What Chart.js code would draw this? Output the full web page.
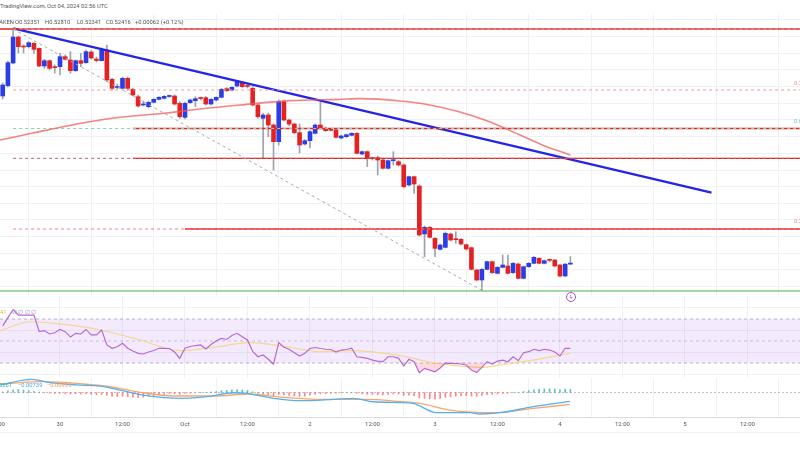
<!DOCTYPE html>
<html>
<head>
<meta charset="utf-8">
<script src="https://cdn.jsdelivr.net/npm/chart.js@4.4.1/dist/chart.umd.min.js"></script>
<style>
  html, body { margin: 0; padding: 0; background: #fff; }
  body { position: relative; width: 800px; height: 450px; overflow: hidden; font-family: Roboto, "Liberation Sans", sans-serif; }
  canvas { position: absolute; left: -30px; }
  .txt { position: absolute; white-space: nowrap; font-size: 5.8px; line-height: 1; color: #555; }
</style>
</head>
<body>
<canvas id="priceChart" width="830" height="282" style="top:14px"></canvas>
<canvas id="rsiChart" width="830" height="82" style="top:296px"></canvas>
<canvas id="macdChart" width="830" height="72" style="top:378px"></canvas>

<div class="txt" style="left:0;top:4px">TradingView.com, Oct 04, 2024 02:56 UTC</div>
<div class="txt" style="right:786px;top:19.5px">XRP / U.S. Dollar · 1h · KRAKEN</div>
<div class="txt" style="left:15px;top:19.5px">O0.52351</div>
<div class="txt" style="left:45px;top:19.5px">H0.52810</div>
<div class="txt" style="left:77px;top:19.5px">L0.52341</div>
<div class="txt" style="left:106px;top:19.5px">C0.52416</div>
<div class="txt" style="left:135px;top:19.5px">+0.00062 (+0.12%)</div>

<div class="txt" style="left:794px;top:81px;color:#e88a8a">0.786(0.6280)</div>
<div class="txt" style="left:794px;top:119px;color:#6fcfae">0.618(0.6049)</div>
<div class="txt" style="left:794px;top:219px;color:#e88a8a">0.236(0.5446)</div>

<div class="txt" style="left:0;top:310px;color:#e0c040">41</div>
<div class="txt" style="left:12px;top:310px;color:#999">∅ ∅ ∅ ∅</div>

<div class="txt" style="right:788px;top:383px;color:#3fae9c">0.00261</div>
<div class="txt" style="left:18px;top:383px;color:#4aa8ee">−0.00739</div>
<div class="txt" style="left:47px;top:383px;color:#f5965a">−0.00993</div>

<div style="position:absolute;left:566px;top:292px;width:8px;height:8px;border:1px solid #a050c8;border-radius:50%;font-size:6px;line-height:8px;text-align:center;color:#a050c8">ϟ</div>
<div style="position:absolute;left:0;top:432px;width:800px;height:1px;background:#eef0f3"></div>

<script>
// hour 0 = Sep 29 12:00 UTC, one candle per hour
const firstHour = 1;
const opens = [0.6244, 0.6306, 0.6442, 0.6598, 0.6541, 0.6540, 0.6560, 0.6530, 0.6424, 0.6456,
  0.6416, 0.6420, 0.6480, 0.6460, 0.6396, 0.6456, 0.6444, 0.6508, 0.6466, 0.6456,
  0.6520, 0.6344, 0.6295, 0.6290, 0.6350, 0.6284, 0.6240, 0.6190, 0.6180, 0.6206,
  0.6224, 0.6230, 0.6241, 0.6244, 0.6200, 0.6116, 0.6204, 0.6216, 0.6230, 0.6234,
  0.6196, 0.6220, 0.6236, 0.6288, 0.6280, 0.6304, 0.6320, 0.6304, 0.6290, 0.6190,
  0.6110, 0.6130, 0.6070, 0.5970, 0.6210, 0.6100, 0.6076, 0.6024, 0.5956, 0.5976,
  0.6020, 0.6070, 0.6050, 0.6040, 0.6040, 0.5992, 0.6000, 0.6008, 0.6020, 0.5896,
  0.5910, 0.5870, 0.5874, 0.5860, 0.5810, 0.5856, 0.5850, 0.5830, 0.5710, 0.5760,
  0.5704, 0.5416, 0.5456, 0.5390, 0.5324, 0.5336, 0.5416, 0.5384, 0.5384, 0.5352,
  0.5334, 0.5200, 0.5140, 0.5204, 0.5250, 0.5180, 0.5216, 0.5224, 0.5184, 0.5236,
  0.5150, 0.5220, 0.5240, 0.5270, 0.5240, 0.5260, 0.5260, 0.5230, 0.5164, 0.52351];
const highs = [0.6322, 0.6454, 0.6646, 0.6604, 0.6550, 0.6570, 0.6564, 0.6532, 0.6464, 0.6460,
  0.6430, 0.6500, 0.6490, 0.6510, 0.6460, 0.6500, 0.6520, 0.6517, 0.6478, 0.6532,
  0.6550, 0.6352, 0.6316, 0.6358, 0.6358, 0.6292, 0.6250, 0.6214, 0.6214, 0.6229,
  0.6241, 0.6247, 0.6250, 0.6250, 0.6210, 0.6208, 0.6226, 0.6240, 0.6238, 0.6241,
  0.6229, 0.6240, 0.6289, 0.6295, 0.6300, 0.6334, 0.6325, 0.6316, 0.6300, 0.6196,
  0.6140, 0.6142, 0.6076, 0.6220, 0.6220, 0.6106, 0.6082, 0.6076, 0.5983, 0.6037,
  0.6076, 0.6208, 0.6058, 0.6046, 0.6046, 0.6010, 0.6016, 0.6025, 0.6025, 0.5914,
  0.5914, 0.5878, 0.5884, 0.5866, 0.5860, 0.5910, 0.5857, 0.5836, 0.5764, 0.5764,
  0.5710, 0.5464, 0.5461, 0.5395, 0.5356, 0.5428, 0.5422, 0.5430, 0.5389, 0.5356,
  0.5338, 0.5206, 0.5209, 0.5254, 0.5254, 0.5221, 0.5290, 0.5290, 0.5245, 0.5242,
  0.5224, 0.5245, 0.5281, 0.5275, 0.5260, 0.5266, 0.5263, 0.5233, 0.5239, 0.52810];
const lows = [0.6226, 0.6298, 0.6436, 0.6502, 0.6502, 0.6532, 0.6500, 0.6420, 0.6410, 0.6400,
  0.6382, 0.6370, 0.6460, 0.6380, 0.6391, 0.6420, 0.6440, 0.6466, 0.6448, 0.6454,
  0.6330, 0.6280, 0.6286, 0.6286, 0.6280, 0.6244, 0.6178, 0.6184, 0.6172, 0.6202,
  0.6220, 0.6226, 0.6235, 0.6190, 0.6110, 0.6106, 0.6199, 0.6180, 0.6220, 0.6190,
  0.6190, 0.6214, 0.6232, 0.6271, 0.6274, 0.6298, 0.6295, 0.6292, 0.6184, 0.6110,
  0.5872, 0.6000, 0.5800, 0.5950, 0.6094, 0.6064, 0.6016, 0.5902, 0.5950, 0.5932,
  0.6016, 0.6046, 0.6031, 0.6034, 0.5992, 0.5986, 0.5995, 0.6004, 0.5896, 0.5890,
  0.5820, 0.5860, 0.5770, 0.5806, 0.5806, 0.5830, 0.5824, 0.5692, 0.5704, 0.5660,
  0.5404, 0.5280, 0.5392, 0.5280, 0.5320, 0.5332, 0.5374, 0.5360, 0.5350, 0.5320,
  0.5200, 0.5134, 0.5078, 0.5200, 0.5179, 0.5176, 0.5212, 0.5176, 0.5179, 0.5146,
  0.5146, 0.5215, 0.5236, 0.5236, 0.5236, 0.5248, 0.5218, 0.5158, 0.5161, 0.52341];
const closes = [0.6310, 0.6444, 0.6598, 0.6540, 0.6538, 0.6564, 0.6524, 0.6424, 0.6456, 0.6410,
  0.6414, 0.6480, 0.6464, 0.6396, 0.6456, 0.6440, 0.6510, 0.6472, 0.6457, 0.6520,
  0.6340, 0.6290, 0.6300, 0.6350, 0.6290, 0.6250, 0.6184, 0.6196, 0.6206, 0.6224,
  0.6236, 0.6242, 0.6244, 0.6196, 0.6120, 0.6200, 0.6220, 0.6228, 0.6229, 0.6196,
  0.6224, 0.6236, 0.6284, 0.6276, 0.6296, 0.6328, 0.6300, 0.6301, 0.6190, 0.6120,
  0.6130, 0.6070, 0.5970, 0.6210, 0.6100, 0.6076, 0.6024, 0.5950, 0.5976, 0.6030,
  0.6070, 0.6050, 0.6036, 0.6038, 0.5996, 0.6004, 0.6012, 0.6020, 0.5900, 0.5910,
  0.5870, 0.5868, 0.5860, 0.5810, 0.5856, 0.5857, 0.5830, 0.5700, 0.5760, 0.5716,
  0.5410, 0.5456, 0.5396, 0.5330, 0.5350, 0.5420, 0.5380, 0.5382, 0.5356, 0.5326,
  0.5204, 0.5140, 0.5204, 0.5250, 0.5184, 0.5216, 0.5230, 0.5180, 0.5240, 0.5150,
  0.5220, 0.5240, 0.5276, 0.5240, 0.5256, 0.5258, 0.5224, 0.5164, 0.5235, 0.52416];

// 100 SMA, read at a few points
const maHours = [0.5, 6.8, 13.3, 19.7, 26.0, 32.5, 38.9, 46.6, 56.2, 65.8, 69.6, 77.3, 83.0, 88.8, 94.6, 100.3, 105.1, 110];
const maValues = [0.5980, 0.6022, 0.6064, 0.6100, 0.6124, 0.6142, 0.6166, 0.6190, 0.6216, 0.6224, 0.6228, 0.6214, 0.6190, 0.6148, 0.6088, 0.6010, 0.5944, 0.5890];

// drawings
const trendHours = [3.03, 137.1];
const trendPrices = [0.6650, 0.5664];
const fibHours = [3, 93];
const fibPrices = [0.6646, 0.5078];
const fibLevels = [0.6646, 0.6280, 0.6049, 0.5870, 0.5446];
const fibColors = ['#b0b3bb', '#f29a9a', '#7fd6b8', '#b06a6a', '#f08080'];
const zeroLevel = 0.5074;
const resPrices = [0.6646, 0.6049, 0.5870, 0.5446];
const resStartHours = [-6, 26, 26, 36];

const rsiValues = [63.8, 71.2, 78.5, 73.6, 73.6, 73.6, 73.6, 58.6, 59.5, 56.4,
  57.5, 60.6, 58.5, 53.6, 57.0, 56.4, 60.5, 55.5, 55.5, 60.0,
  46.4, 43.4, 44.8, 47.9, 43.4, 40.9, 38.8, 38.2, 40.0, 41.4,
  43.4, 43.4, 43.2, 40.0, 34.3, 43.4, 45.0, 45.9, 46.4, 42.7,
  46.8, 50.0, 52.3, 51.4, 55.0, 57.0, 53.9, 50.9, 40.5, 35.7,
  37.3, 33.4, 29.1, 48.5, 44.3, 42.5, 39.4, 36.4, 38.8, 43.2,
  44.1, 43.2, 42.5, 42.3, 40.0, 41.8, 42.3, 43.4, 35.7, 35.2,
  34.3, 32.7, 31.8, 31.2, 35.7, 35.7, 34.5, 27.3, 33.4, 31.2,
  21.2, 25.2, 23.6, 22.1, 25.5, 30.0, 29.7, 29.4, 29.1, 28.2,
  23.6, 21.4, 26.1, 31.2, 29.1, 31.8, 32.7, 31.2, 35.7, 32.1,
  39.4, 40.3, 42.5, 41.2, 42.5, 41.8, 40.0, 36.4, 43.4, 43.4];
const rsiMaHours = [0.5, 6.2, 12.0, 19.7, 27.4, 35.0, 41.4, 48.5, 55.5, 61.9, 67.7, 77.3, 83.6, 92.6, 96.5, 102.8, 109.9];
const rsiMaValues = [59.4, 67.5, 65.5, 60.0, 50.9, 41.2, 44.3, 48.5, 44.8, 40.3, 41.2, 36.8, 30.3, 26.1, 28.2, 32.7, 38.8];
const rsiLevels = [70, 50, 30];

const macdHours = [0.5, 6.6, 10.1, 15.2, 19.7, 22.9, 28.0, 35.7, 40.2, 45.3, 47.8, 53.0, 58.1, 64.5, 68.3, 72.2, 77.3, 79.8, 84.3, 90.7, 92.6, 96.5, 102.9, 109.9];
const macdValues = [0.0063, 0.0110, 0.0082, 0.0063, 0.0054, 0.0027, -0.0021, -0.0048, -0.0035, -0.0002, -0.0007, -0.0048, -0.0068, -0.0057, -0.0048, -0.0077, -0.0083, -0.0090, -0.0168, -0.0168, -0.0179, -0.0168, -0.0118, -0.00739];
const signalHours = [0.5, 8.8, 16.5, 21.6, 28.0, 33.8, 42.1, 47.8, 54.9, 61.3, 70.9, 77.3, 81.1, 86.9, 95.9, 102.9, 109.9];
const signalValues = [0.0071, 0.0090, 0.0071, 0.0048, -0.0002, -0.0029, -0.0029, -0.00125, -0.0040, -0.0057, -0.0057, -0.0075, -0.0090, -0.0146, -0.0168, -0.0132, -0.00993];
const macdHist = [0.0005, 0.0015, 0.0022, 0.0025, 0.0020, 0.0015, 0.0010, 0.0003, -0.0003, -0.0006,
  -0.0008, -0.0008, -0.0010, -0.0012, -0.0010, -0.0013, -0.0010, -0.0015, -0.0018, -0.0015,
  -0.0025, -0.0030, -0.0033, -0.0030, -0.0035, -0.0038, -0.0040, -0.0038, -0.0032, -0.0026,
  -0.0020, -0.0015, -0.0010, -0.0010, -0.0015, -0.0008, -0.0004, -0.0001, 0.0002, 0.0000,
  0.0003, 0.0008, 0.0015, 0.0018, 0.0022, 0.0025, 0.0022, 0.0018, 0.0006, -0.0008,
  -0.0013, -0.0020, -0.0030, -0.0015, -0.0020, -0.0025, -0.0028, -0.0032, -0.0030, -0.0022,
  -0.0015, -0.0012, -0.0010, -0.0006, -0.0006, -0.0003, 0.0000, 0.0002, -0.0008, -0.0012,
  -0.0015, -0.0018, -0.0020, -0.0020, -0.0015, -0.0012, -0.0012, -0.0025, -0.0023, -0.0026,
  -0.0045, -0.0048, -0.0052, -0.0055, -0.0050, -0.0040, -0.0035, -0.0030, -0.0026, -0.0024,
  -0.0030, -0.0032, -0.0025, -0.0018, -0.0016, -0.0012, -0.0008, -0.0006, 0.0002, 0.0000,
  0.0008, 0.0015, 0.0023, 0.0026, 0.0030, 0.0032, 0.0030, 0.0022, 0.0028, 0.00261];

const tickHours = [0, 12, 24, 36, 48, 60, 72, 84, 96, 108, 120, 132, 144];
const tickLabels = ['12:00', '30', '12:00', 'Oct', '12:00', '2', '12:00', '3', '12:00', '4', '12:00', '5', '12:00'];
const priceGridTicks = [0.51, 0.52, 0.53, 0.54, 0.55, 0.56, 0.57, 0.58, 0.59, 0.60, 0.61, 0.62, 0.63, 0.64, 0.65, 0.66, 0.67];
const rsiGridTicks = [20, 40, 60, 80];

// visible window of each pane
const xMin = -5.28, xMax = 154.09;
const priceMin = 0.5044, priceMax = 0.6736;
const rsiMin = 16.4, rsiMax = 90.9;
const macdMin = -0.0204, macdMax = 0.0121;

const upColor = '#2b3de6';
const downColor = '#e52222';
const candleHours = opens.map((_, k) => firstHour + k);

function line(xs, ys, color, width, extra) {
  return Object.assign({
    type: 'line',
    data: xs.map((x, k) => ({ x: x, y: ys[k] })),
    borderColor: color,
    borderWidth: width,
    pointRadius: 0,
    fill: false,
    order: 0
  }, extra || {});
}

function timeAxis(showLabels) {
  return {
    type: 'linear', min: xMin, max: xMax, offset: false,
    afterBuildTicks: axis => { axis.ticks = tickHours.map(v => ({ value: v })); },
    grid: { color: '#f0f1f4', drawTicks: false },
    border: { display: showLabels, color: '#d9dbe0' },
    ticks: {
      display: showLabels, padding: 4, color: '#555', autoSkip: false, maxRotation: 0,
      font: { size: 6, family: 'Roboto' },
      callback: (v, i) => tickLabels[i]
    },
    afterFit: axis => { axis.height = showLabels ? 33 : 0; }
  };
}

function valueAxis(min, max, gridTicks) {
  return {
    type: 'linear', position: 'right', min: min, max: max,
    afterBuildTicks: axis => { axis.ticks = gridTicks.map(v => ({ value: v })); },
    grid: { color: '#f0f1f4', drawTicks: false, display: gridTicks.length > 0 },
    border: { display: false },
    ticks: { display: false },
    afterFit: axis => { axis.width = 0; }
  };
}

const baseOptions = {
  responsive: false,
  animation: false,
  devicePixelRatio: 1,
  layout: { padding: 0 },
  plugins: { legend: { display: false }, tooltip: { enabled: false } }
};

// price pane
const priceDatasets = [
  {
    type: 'bar',
    data: candleHours.map((h, k) => ({ x: h, y: [lows[k], highs[k]] })),
    backgroundColor: '#9fa2aa',
    barThickness: 1,
    grouped: false,
    order: 2
  },
  {
    type: 'bar',
    data: candleHours.map((h, k) => ({ x: h, y: [opens[k], closes[k]] })),
    backgroundColor: candleHours.map((h, k) => closes[k] >= opens[k] ? upColor : downColor),
    barThickness: 4,
    minBarLength: 1,
    grouped: false,
    order: 1
  },
  line(maHours, maValues, 'rgba(242,90,90,0.75)', 1.6, { tension: 0.4, cubicInterpolationMode: 'monotone' }),
  line(fibHours, fibPrices, '#a8abb3', 1, { borderDash: [3, 3] }),
  line([-6, xMax], [zeroLevel, zeroLevel], '#4caf50', 1.2)
];
fibLevels.forEach((p, k) => {
  priceDatasets.push(line([3, xMax], [p, p], fibColors[k], 1, { borderDash: [3, 3] }));
});
resPrices.forEach((p, k) => {
  priceDatasets.push(line([resStartHours[k], xMax], [p, p], '#f01c1c', 1.4));
});
priceDatasets.push(line(trendHours, trendPrices, '#2424e6', 2.2));

new Chart(document.getElementById('priceChart'), {
  type: 'bar',
  data: { datasets: priceDatasets },
  options: Object.assign({}, baseOptions, {
    scales: { x: timeAxis(false), y: valueAxis(priceMin, priceMax, priceGridTicks) }
  })
});

// RSI pane
new Chart(document.getElementById('rsiChart'), {
  type: 'line',
  data: {
    datasets: [
      line(candleHours, rsiValues, '#b868d6', 1.2, {
        fill: { target: { value: 30 }, above: 'rgba(0,0,0,0)', below: 'rgba(242,54,69,0.18)' }
      }),
      line(rsiMaHours, rsiMaValues, '#f3d88e', 1.2, { tension: 0.4, cubicInterpolationMode: 'monotone' }),
      line([xMin, xMax], [rsiLevels[0], rsiLevels[0]], 'rgba(150,130,170,0.6)', 1,
        { borderDash: [3, 3], fill: '+1', backgroundColor: 'rgba(160,90,235,0.12)', order: 1 }),
      line([xMin, xMax], [rsiLevels[2], rsiLevels[2]], 'rgba(150,130,170,0.6)', 1, { borderDash: [3, 3], order: 1 }),
      line([xMin, xMax], [rsiLevels[1], rsiLevels[1]], 'rgba(150,130,170,0.45)', 1, { borderDash: [3, 3], order: 1 })
    ]
  },
  options: Object.assign({}, baseOptions, {
    scales: { x: timeAxis(false), y: valueAxis(rsiMin, rsiMax, rsiGridTicks) }
  })
});

// MACD pane
new Chart(document.getElementById('macdChart'), {
  type: 'bar',
  data: {
    datasets: [
      {
        type: 'bar',
        data: candleHours.map((h, k) => ({ x: h, y: macdHist[k] })),
        backgroundColor: macdHist.map(v => v >= 0 ? 'rgba(38,166,154,0.7)' : 'rgba(255,82,82,0.7)'),
        barThickness: 1,
        grouped: false,
        order: 2
      },
      line(macdHours, macdValues, '#55b0f2', 1.3, { tension: 0.4, cubicInterpolationMode: 'monotone' }),
      line(signalHours, signalValues, '#f9a66c', 1.3, { tension: 0.4, cubicInterpolationMode: 'monotone' }),
      line([xMin, xMax], [0, 0], 'rgba(120,123,134,0.45)', 1, { borderDash: [2, 2], order: 3 })
    ]
  },
  options: Object.assign({}, baseOptions, {
    scales: { x: timeAxis(true), y: valueAxis(macdMin, macdMax, []) }
  })
});
</script>
</body>
</html>
